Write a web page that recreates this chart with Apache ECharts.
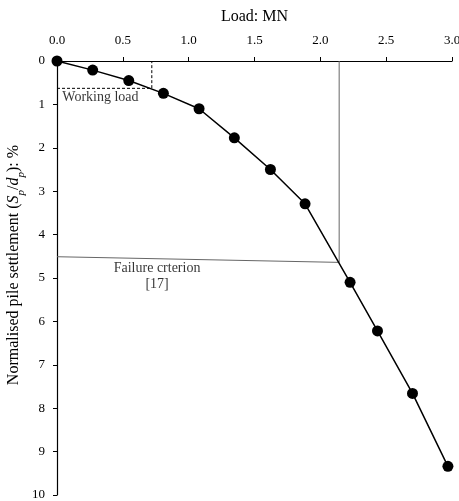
<!DOCTYPE html>
<html><head><meta charset="utf-8">
<script src="https://cdn.jsdelivr.net/npm/echarts@6/dist/echarts.min.js"></script>
<style>html,body{margin:0;padding:0;background:#fff}#c{width:459px;height:501px}</style>
</head><body><div id="c"></div>
<script>
const loadMN = [0, 0.271, 0.545, 0.808, 1.079, 1.347, 1.621, 1.884, 2.226, 2.434, 2.70, 2.969];
const settlement = [0, 0.21, 0.45, 0.745, 1.10, 1.77, 2.50, 3.29, 5.10, 6.22, 7.66, 9.34];
const xTicks = [0, 0.5, 1.0, 1.5, 2.0, 2.5, 3.0];
const yTicks = [0,1,2,3,4,5,6,7,8,9,10];
const workingLoadX = [0, 0.72, 0.72];
const workingLoadY = [0.63, 0.63, 0];
const failureX = [0, 2.143, 2.143];
const failureY = [4.51, 4.64, 0];
const notes = [
  {text: 'Working load', x: 0.33, y: 0.83},
  {text: 'Failure crterion', x: 0.76, y: 4.77},
  {text: '[17]', x: 0.76, y: 5.14}
];
const font = '"Liberation Serif", "Times New Roman", serif';
const chart = echarts.init(document.getElementById('c'));
const zip = (a,b)=>a.map((v,i)=>[v,b[i]]);
chart.setOption({
  animation: false,
  grid: {left: 57, right: 7, top: 61, bottom: 6, containLabel: false, outerBoundsMode: 'none'},
  xAxis: {
    type: 'value', position: 'top', min: 0, max: 3, interval: 0.5,
    name: 'Load: MN', nameLocation: 'middle', nameGap: 36, nameMoveOverlap: false,
    nameTextStyle: {fontFamily: font, fontSize: 16, color: '#000'},
    axisLine: {lineStyle: {color: '#000', width: 1.2}},
    axisTick: {show: true, length: 4, lineStyle: {color: '#000'}},
    axisLabel: {fontFamily: font, fontSize: 13, color: '#000', margin: 14, formatter: v => v.toFixed(1)},
    splitLine: {show: false}
  },
  yAxis: {
    type: 'value', inverse: true, min: 0, max: 10, interval: 1,
    name: '{n|Normalised pile settlement (}{i|S}{s|p}{n|/}{i|d}{s|p}{n|): %}',
    nameLocation: 'middle', nameGap: 33, nameRotate: 90, nameMoveOverlap: false,
    nameTextStyle: {fontFamily: font, fontSize: 16, color: '#000', padding: [0, 0, 0, 26],
      rich: {
        n: {fontFamily: font, fontSize: 16, color: '#000', lineHeight: 20, verticalAlign: 'middle'},
        i: {fontFamily: font, fontSize: 16, fontStyle: 'italic', color: '#000', lineHeight: 20, verticalAlign: 'middle'},
        s: {fontFamily: font, fontSize: 11, fontStyle: 'italic', color: '#000', lineHeight: 20, verticalAlign: 'bottom', padding: [0,0,-3,0]}
      }},
    axisLine: {show: true, lineStyle: {color: '#000', width: 1.2}},
    axisTick: {show: true, length: 4, lineStyle: {color: '#000'}},
    axisLabel: {fontFamily: font, fontSize: 13, color: '#000', margin: 12},
    splitLine: {show: false}
  },
  series: [
    {type: 'line', data: zip(workingLoadX, workingLoadY), symbol: 'none', silent: true,
     lineStyle: {color: '#000', width: 1, type: [3,2]}},
    {type: 'line', data: zip(failureX, failureY), symbol: 'none', silent: true,
     lineStyle: {color: '#666', width: 1}},
    {type: 'line', data: zip(loadMN, settlement), symbol: 'circle', symbolSize: 11,
     itemStyle: {color: '#000'}, lineStyle: {color: '#000', width: 1.5}},
    {type: 'scatter', symbolSize: 0, silent: true,
     data: notes.map(n => ({value: [n.x, n.y], label: {show: true, formatter: n.text}})),
     label: {position: 'inside', fontFamily: font, fontSize: 14, color: '#000'}}
  ]
});
</script></body></html>
